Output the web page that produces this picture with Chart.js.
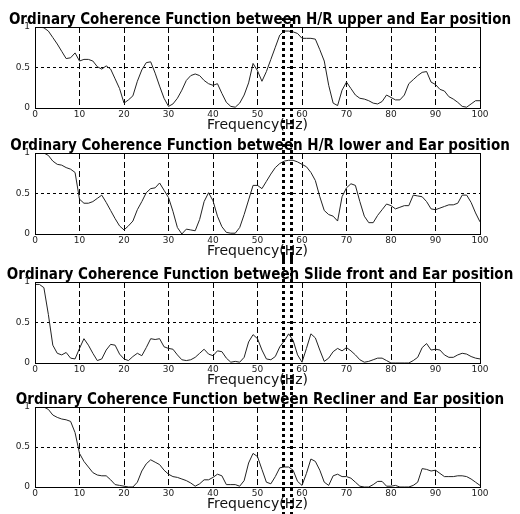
<!DOCTYPE html>
<html>
<head>
<meta charset="utf-8">
<script src="https://cdn.jsdelivr.net/npm/chart.js@4.4.0/dist/chart.umd.min.js"></script>
<style>
    html, body { margin: 0; padding: 0; background: #fff; overflow: hidden; }
    #wrap { position: relative; width: 520px; height: 514px; }
    #wrap canvas { position: absolute; left: 0; }
</style>
</head>
<body>
<div id="wrap">
    <canvas id="c1" width="520" height="135" style="top:0px"></canvas>
    <canvas id="c2" width="520" height="135" style="top:126px"></canvas>
    <canvas id="c3" width="520" height="135" style="top:255px"></canvas>
    <canvas id="c4" width="520" height="134" style="top:380px"></canvas>
</div>
<script>
// ===== 데이터 =====
const freqHz = [
    0, 1, 2, 3, 4, 5, 6, 7, 8, 9, 10, 11, 12, 13, 14, 15, 16, 17, 18, 19,
    20, 21, 22, 23, 24, 25, 26, 27, 28, 29, 30, 31, 32, 33, 34, 35, 36, 37, 38, 39,
    40, 41, 42, 43, 44, 45, 46, 47, 48, 49, 50, 51, 52, 53, 54, 55, 56, 57, 58, 59,
    60, 61, 62, 63, 64, 65, 66, 67, 68, 69, 70, 71, 72, 73, 74, 75, 76, 77, 78, 79,
    80, 81, 82, 83, 84, 85, 86, 87, 88, 89, 90, 91, 92, 93, 94, 95, 96, 97, 98, 99, 100
];

const hrUpper = [
    1.00, 1.00, 0.99, 0.95, 0.87, 0.79, 0.70, 0.61, 0.62, 0.68, 0.58, 0.60, 0.60, 0.58, 0.51, 0.48, 0.52, 0.48, 0.36, 0.24,
    0.06, 0.10, 0.15, 0.33, 0.47, 0.56, 0.57, 0.43, 0.27, 0.12, 0.02, 0.05, 0.12, 0.22, 0.34, 0.40, 0.42, 0.40, 0.34, 0.30,
    0.28, 0.30, 0.18, 0.07, 0.02, 0.01, 0.06, 0.16, 0.31, 0.55, 0.46, 0.33, 0.45, 0.60, 0.75, 0.90, 0.95, 0.95, 0.94, 0.92,
    0.86, 0.86, 0.86, 0.85, 0.72, 0.58, 0.28, 0.06, 0.03, 0.22, 0.32, 0.24, 0.16, 0.12, 0.11, 0.09, 0.06, 0.05, 0.08, 0.16,
    0.13, 0.10, 0.10, 0.16, 0.30, 0.35, 0.40, 0.44, 0.45, 0.32, 0.29, 0.23, 0.21, 0.14, 0.11, 0.07, 0.02, 0.01, 0.05, 0.09, 0.09
];

const hrLower = [
    1.00, 1.00, 1.00, 0.97, 0.90, 0.86, 0.85, 0.82, 0.80, 0.76, 0.43, 0.38, 0.38, 0.40, 0.44, 0.48, 0.39, 0.29, 0.19, 0.10,
    0.05, 0.10, 0.16, 0.30, 0.40, 0.51, 0.56, 0.57, 0.63, 0.54, 0.45, 0.28, 0.08, 0.00, 0.06, 0.05, 0.04, 0.18, 0.40, 0.51,
    0.41, 0.22, 0.09, 0.02, 0.01, 0.01, 0.08, 0.24, 0.42, 0.60, 0.60, 0.56, 0.65, 0.74, 0.82, 0.87, 0.90, 0.91, 0.91, 0.89,
    0.86, 0.83, 0.76, 0.66, 0.46, 0.29, 0.24, 0.22, 0.16, 0.46, 0.57, 0.62, 0.60, 0.40, 0.22, 0.14, 0.14, 0.23, 0.30, 0.37,
    0.35, 0.31, 0.33, 0.35, 0.35, 0.48, 0.47, 0.46, 0.40, 0.31, 0.30, 0.32, 0.34, 0.36, 0.36, 0.38, 0.48, 0.48, 0.39, 0.26, 0.15
];

const slideFront = [
    0.97, 0.97, 0.93, 0.60, 0.22, 0.12, 0.10, 0.13, 0.06, 0.05, 0.18, 0.30, 0.22, 0.12, 0.03, 0.05, 0.16, 0.23, 0.22, 0.11,
    0.05, 0.03, 0.08, 0.12, 0.09, 0.19, 0.30, 0.29, 0.30, 0.20, 0.18, 0.17, 0.10, 0.04, 0.03, 0.04, 0.07, 0.12, 0.17, 0.11,
    0.09, 0.15, 0.14, 0.06, 0.01, 0.02, 0.01, 0.07, 0.26, 0.35, 0.30, 0.16, 0.05, 0.04, 0.08, 0.20, 0.27, 0.36, 0.28, 0.10,
    0.01, 0.18, 0.36, 0.31, 0.16, 0.02, 0.06, 0.14, 0.18, 0.15, 0.19, 0.15, 0.10, 0.04, 0.01, 0.02, 0.04, 0.06, 0.06, 0.03,
    0.00, 0.00, 0.00, 0.00, 0.00, 0.03, 0.07, 0.19, 0.24, 0.16, 0.17, 0.16, 0.10, 0.07, 0.07, 0.10, 0.12, 0.11, 0.08, 0.06, 0.05
];

const recliner = [
    1.00, 1.00, 1.00, 0.97, 0.90, 0.87, 0.85, 0.84, 0.82, 0.68, 0.42, 0.32, 0.25, 0.18, 0.15, 0.14, 0.14, 0.09, 0.03, 0.02,
    0.01, 0.00, 0.00, 0.06, 0.20, 0.29, 0.34, 0.31, 0.28, 0.21, 0.16, 0.13, 0.12, 0.10, 0.08, 0.05, 0.01, 0.04, 0.09, 0.09,
    0.12, 0.16, 0.14, 0.03, 0.03, 0.03, 0.01, 0.08, 0.30, 0.42, 0.38, 0.22, 0.06, 0.04, 0.13, 0.24, 0.25, 0.25, 0.21, 0.07,
    0.02, 0.17, 0.35, 0.32, 0.21, 0.06, 0.02, 0.14, 0.16, 0.13, 0.13, 0.11, 0.06, 0.01, 0.00, 0.00, 0.03, 0.07, 0.07, 0.01,
    0.01, 0.02, 0.00, 0.00, 0.00, 0.02, 0.06, 0.23, 0.22, 0.20, 0.21, 0.17, 0.13, 0.13, 0.13, 0.14, 0.14, 0.13, 0.10, 0.06, 0.02
];

// 세로 점선 표시 주파수 (Hz)
const markerHz = [55.8, 57.5];

const panelTitles = [
    'Ordinary Coherence Function between H/R upper and Ear position',
    'Ordinary Coherence Function between H/R lower and Ear position',
    'Ordinary Coherence Function between Slide front and Ear position',
    'Ordinary Coherence Function between Recliner and Ear position'
];

// ===== 플러그인 =====
// 플롯 영역 테두리 (실선)
const frameBox = {
    id: 'frameBox',
    afterDatasetsDraw(chart) {
        const a = chart.chartArea;
        const ctx = chart.ctx;
        ctx.save();
        ctx.strokeStyle = '#000';
        ctx.lineWidth = 1;
        ctx.setLineDash([]);
        ctx.strokeRect(Math.round(a.left) + 0.5, Math.round(a.top) + 0.5,
            Math.round(a.right - a.left), Math.round(a.bottom - a.top));
        ctx.restore();
    }
};

// 굵은 세로 점선 (패널 전체를 관통)
const markerLines = {
    id: 'markerLines',
    afterDraw(chart, args, opts) {
        const ctx = chart.ctx;
        const xs = chart.scales.x;
        const top = opts.first ? chart.chartArea.top - 9 : 0;
        ctx.save();
        ctx.strokeStyle = '#000';
        ctx.lineWidth = 3;
        ctx.setLineDash([3, 3]);
        markerHz.forEach(f => {
            const px = Math.round(xs.getPixelForValue(f)) + 0.5;
            ctx.beginPath();
            ctx.moveTo(px, top);
            ctx.lineTo(px, chart.height);
            ctx.stroke();
        });
        ctx.restore();
    }
};

// ===== 차트 생성 =====
function makeChart(canvasId, title, values, first) {
    const ctx = document.getElementById(canvasId).getContext('2d');
    return new Chart(ctx, {
        type: 'line',
        data: {
            labels: freqHz,
            datasets: [{
                data: values,
                borderColor: '#222',
                borderWidth: 1,
                pointRadius: 0,
                tension: 0,
                fill: false
            }]
        },
        options: {
            responsive: false,
            animation: false,
            devicePixelRatio: 1,
            layout: { padding: 0 },
            plugins: {
                legend: { display: false },
                tooltip: { enabled: false },
                title: {
                    display: true,
                    text: title,
                    color: '#000',
                    font: { family: "'DejaVu Sans Condensed', 'DejaVu Sans', sans-serif", size: 15, weight: 'bold', lineHeight: 0.9 },
                    padding: { top: 13.5, bottom: 0 }
                },
                markerLines: { first: first }
            },
            scales: {
                x: {
                    type: 'linear',
                    min: 0,
                    max: 100,
                    afterFit(s) { s.height = 27; },
                    ticks: { stepSize: 10, padding: 1, maxRotation: 0, color: '#222', font: { family: 'DejaVu Sans', size: 9 } },
                    grid: { drawTicks: false, color: '#000', lineWidth: 1 },
                    border: { display: false, dash: [6, 3] },
                    title: {
                        display: true,
                        text: 'Frequency(Hz)',
                        color: '#111',
                        font: { family: 'DejaVu Sans', size: 14 },
                        padding: { top: 0, bottom: 1 }
                    }
                },
                y: {
                    min: 0,
                    max: 1,
                    afterFit(s) { s.width = 35; },
                    ticks: {
                        stepSize: 0.5,
                        padding: 5,
                        color: '#222',
                        font: { family: 'DejaVu Sans', size: 9 },
                        callback: v => String(v)
                    },
                    grid: { drawTicks: false, color: '#000', lineWidth: 1 },
                    border: { display: false, dash: [3, 3] }
                },
                // 오른쪽 여백용 빈 축
                yRight: {
                    position: 'right',
                    min: 0,
                    max: 1,
                    afterFit(s) { s.width = 40; },
                    ticks: { display: false },
                    grid: { display: false },
                    border: { display: false }
                }
            }
        },
        plugins: [frameBox, markerLines]
    });
}

makeChart('c1', panelTitles[0], hrUpper, true);
makeChart('c2', panelTitles[1], hrLower, false);
makeChart('c3', panelTitles[2], slideFront, false);
makeChart('c4', panelTitles[3], recliner, false);
</script>
</body>
</html>
